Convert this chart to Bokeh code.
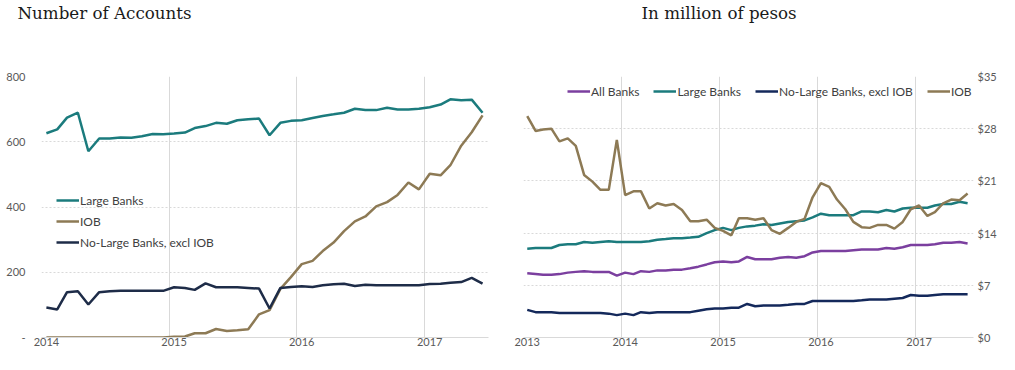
import pandas as pd
from bokeh.plotting import figure
from bokeh.models import (Range1d, FixedTicker, DatetimeTickFormatter, Legend,
                          LegendItem, NumeralTickFormatter)
from bokeh.core.properties import value
from bokeh.layouts import row, column
from bokeh.embed import file_html
from bokeh.resources import INLINE

# ---------------- data ----------------
# Left: number of accounts, monthly Jan 2014 - Jun 2017
acct_title = "Number of Accounts"
acct_start = "2014-01"
acct_large = [626, 638, 674, 689, 571, 610, 610, 613, 612, 617, 624, 623,
              625, 628, 642, 648, 658, 655, 666, 669, 671, 620, 658, 664,
              666, 673, 679, 684, 689, 701, 697, 697, 704, 699, 699, 701,
              706, 714, 730, 727, 729, 689]
acct_iob = [0, 0, 0, 0, 0, 0, 0, 0, 0, 0, 0, 0,
            2, 3, 13, 13, 26, 20, 22, 25, 71, 84, 149, 185,
            225, 235, 265, 291, 326, 356, 371, 402, 415, 437, 475, 454,
            502, 497, 528, 588, 629, 681]
acct_nolarge = [92, 86, 139, 142, 101, 139, 142, 143, 143, 143, 143, 143,
                154, 152, 146, 166, 154, 154, 154, 152, 150, 89, 152, 155,
                157, 155, 160, 163, 165, 158, 162, 160, 160, 160, 160, 160,
                164, 165, 168, 170, 183, 165]
acct_years = [2014, 2015, 2016, 2017]
acct_ticks = [0, 200, 400, 600, 800]

# Right: balances in million of pesos, monthly Jan 2013 - Jul 2017
bal_title = "In million of pesos"
bal_start = "2013-01"
bal_all = [8.6, 8.5, 8.4, 8.4, 8.5, 8.7, 8.8, 8.9, 8.8, 8.8, 8.8, 8.3,
           8.7, 8.5, 8.9, 8.8, 9.0, 9.0, 9.1, 9.1, 9.3, 9.5, 9.8, 10.1,
           10.2, 10.1, 10.2, 10.8, 10.5, 10.5, 10.5, 10.7, 10.8, 10.7, 10.9, 11.4,
           11.6, 11.6, 11.6, 11.6, 11.7, 11.8, 11.8, 11.8, 12.0, 11.9, 12.1, 12.4,
           12.4, 12.4, 12.5, 12.7, 12.7, 12.8, 12.6]
bal_large = [11.9, 12.0, 12.0, 12.0, 12.4, 12.5, 12.5, 12.8, 12.7, 12.8, 12.9, 12.8,
             12.8, 12.8, 12.8, 12.9, 13.1, 13.2, 13.3, 13.3, 13.4, 13.5, 14.0, 14.4,
             14.7, 14.4, 14.7, 14.9, 15.0, 15.2, 15.1, 15.3, 15.5, 15.6, 15.7, 16.1,
             16.6, 16.4, 16.4, 16.4, 16.4, 16.9, 16.9, 16.8, 17.1, 16.9, 17.3, 17.4,
             17.4, 17.4, 17.7, 17.9, 17.9, 18.2, 18.0]
bal_nolarge = [3.7, 3.4, 3.4, 3.4, 3.3, 3.3, 3.3, 3.3, 3.3, 3.3, 3.2, 3.0,
               3.2, 3.0, 3.4, 3.3, 3.4, 3.4, 3.4, 3.4, 3.4, 3.6, 3.8, 3.9,
               3.9, 4.0, 4.0, 4.5, 4.2, 4.3, 4.3, 4.3, 4.4, 4.5, 4.5, 4.9,
               4.9, 4.9, 4.9, 4.9, 4.9, 5.0, 5.1, 5.1, 5.1, 5.2, 5.3, 5.7,
               5.6, 5.6, 5.7, 5.8, 5.8, 5.8, 5.8]
bal_iob = [29.7, 27.7, 27.9, 28.0, 26.3, 26.7, 25.7, 21.8, 20.9, 19.8, 19.8, 26.5,
           19.1, 19.6, 19.6, 17.3, 18.0, 17.7, 17.9, 17.1, 15.6, 15.6, 15.8, 14.7,
           14.3, 13.7, 16.0, 16.0, 15.8, 16.0, 14.4, 13.9, 14.7, 15.5, 15.9, 18.8,
           20.7, 20.2, 18.5, 17.2, 15.5, 14.8, 14.7, 15.1, 15.1, 14.6, 15.5, 17.2,
           17.7, 16.3, 16.8, 18.0, 18.5, 18.4, 19.3]
bal_years = [2013, 2014, 2015, 2016, 2017]
bal_ticks = [0, 7, 14, 21, 28, 35]

# ---------------- styling ----------------
TEAL = "#1B7B7D"
TAN = "#8D7A55"
NAVY_L = "#1E2C48"
NAVY_R = "#14295B"
PURPLE = "#7B3F9F"
GRID = "#d9d9d9"
LABEL = "#595959"
FONT = "Lato"
W_LEFT, W_RIGHT = 495, 504
H_TITLE = 30
H_MAIN = 320
BORDER_TOP = 46
BORDER_BOTTOM = 13


def month_dates(start, n):
    return pd.date_range(start=start, periods=n, freq="MS") + pd.Timedelta(days=14)


def ms(s):
    return pd.Timestamp(s).value / 1e6


YEAR_FMT = DatetimeTickFormatter(years="%Y", months="%Y", days="%Y", hours="%Y",
                                 hourmin="%Y", minutes="%Y", minsec="%Y",
                                 seconds="%Y", milliseconds="%Y", microseconds="%Y")


def title_fig(width, text, tx):
    t = figure(width=width, height=H_TITLE, x_range=Range1d(0, width),
               y_range=Range1d(0, H_TITLE), x_axis_location=None,
               y_axis_location=None, output_backend="svg", toolbar_location=None,
               min_border=0)
    t.outline_line_color = None
    t.grid.visible = False
    t.text(x=[tx], y=[18], text=[text], text_font=value("DejaVu Serif"),
           text_font_size="16.7px", text_color="#1a1a1a",
           text_baseline="alphabetic", text_align="left")
    return t


def style(p, years, yticks):
    p.outline_line_color = None
    p.xaxis.ticker = FixedTicker(ticks=[ms(f"{y}-01-15") for y in years])
    p.xaxis.formatter = YEAR_FMT
    p.xgrid.ticker = FixedTicker(ticks=[ms(f"{y}-01-01") for y in years])
    p.xgrid.grid_line_color = GRID
    p.ygrid.grid_line_color = GRID
    p.ygrid.grid_line_dash = "2 2"
    p.yaxis.ticker = FixedTicker(ticks=yticks)
    for ax in (p.xaxis[0], p.yaxis[0]):
        ax.major_tick_line_color = None
        ax.minor_tick_line_color = None
        ax.major_tick_out = 0
        ax.major_tick_in = 0
        ax.minor_tick_out = 0
        ax.minor_tick_in = 0
        ax.major_label_text_font = FONT
        ax.major_label_text_font_size = "11px"
        ax.major_label_text_color = LABEL
    p.xaxis.axis_line_color = GRID
    p.yaxis.axis_line_color = None
    p.xaxis.major_label_standoff = 0


def legend(items, loc, orientation="vertical", spacing=1):
    return Legend(items=items, location=loc, orientation=orientation,
                  padding=0, margin=0, spacing=spacing,
                  glyph_width=23, glyph_height=20, label_height=20,
                  label_standoff=1, label_text_font=FONT,
                  label_text_font_size="12px", label_text_color="#404040",
                  background_fill_alpha=0, border_line_alpha=0)


# ---------------- left chart ----------------
xa = month_dates(acct_start, len(acct_large))
p1 = figure(width=W_LEFT, height=H_MAIN, x_axis_type="datetime",
            x_range=Range1d(ms("2014-01-01"), ms("2017-07-02")),
            y_range=Range1d(0, 800), output_backend="svg", toolbar_location=None,
            min_border_left=41, min_border_right=7, min_border_top=BORDER_TOP,
            min_border_bottom=BORDER_BOTTOM)
style(p1, acct_years, acct_ticks)
p1.yaxis.major_label_overrides = {0: "-"}
p1.yaxis.major_label_standoff = 16

r_l = p1.line(xa, acct_large, line_color=TEAL, line_width=2.5)
r_i = p1.line(xa, acct_iob, line_color=TAN, line_width=2.5)
r_n = p1.line(xa, acct_nolarge, line_color=NAVY_L, line_width=2.5)
p1.add_layout(legend([LegendItem(label="Large Banks", renderers=[r_l]),
                      LegendItem(label="IOB", renderers=[r_i]),
                      LegendItem(label="No-Large Banks, excl IOB", renderers=[r_n])],
                     (15, 85)))

# ---------------- right chart ----------------
xb = month_dates(bal_start, len(bal_all))
p2 = figure(width=W_RIGHT, height=H_MAIN, x_axis_type="datetime", y_axis_location="right",
            x_range=Range1d(ms("2013-01-01"), ms("2017-08-06")),
            y_range=Range1d(0, 35), output_backend="svg", toolbar_location=None,
            min_border_left=28, min_border_right=23, min_border_top=BORDER_TOP,
            min_border_bottom=BORDER_BOTTOM)
style(p2, bal_years, bal_ticks)
p2.yaxis.formatter = NumeralTickFormatter(format="$0")
p2.yaxis.major_label_standoff = 4

s_a = p2.line(xb, bal_all, line_color=PURPLE, line_width=2.5)
s_l = p2.line(xb, bal_large, line_color=TEAL, line_width=2.5)
s_n = p2.line(xb, bal_nolarge, line_color=NAVY_R, line_width=2.5)
s_i = p2.line(xb, bal_iob, line_color=TAN, line_width=2.5)
p2.add_layout(legend([LegendItem(label="All Banks", renderers=[s_a]),
                      LegendItem(label="Large Banks", renderers=[s_l]),
                      LegendItem(label="No-Large Banks, excl IOB", renderers=[s_n]),
                      LegendItem(label="IOB", renderers=[s_i])],
                     (44, 236), orientation="horizontal", spacing=14))

t1 = title_fig(W_LEFT, acct_title, 17)
t2 = title_fig(W_RIGHT, bal_title, 146)

layout = column(row(t1, t2), row(p1, p2))
open("out.html", "w").write(file_html(layout, INLINE))
